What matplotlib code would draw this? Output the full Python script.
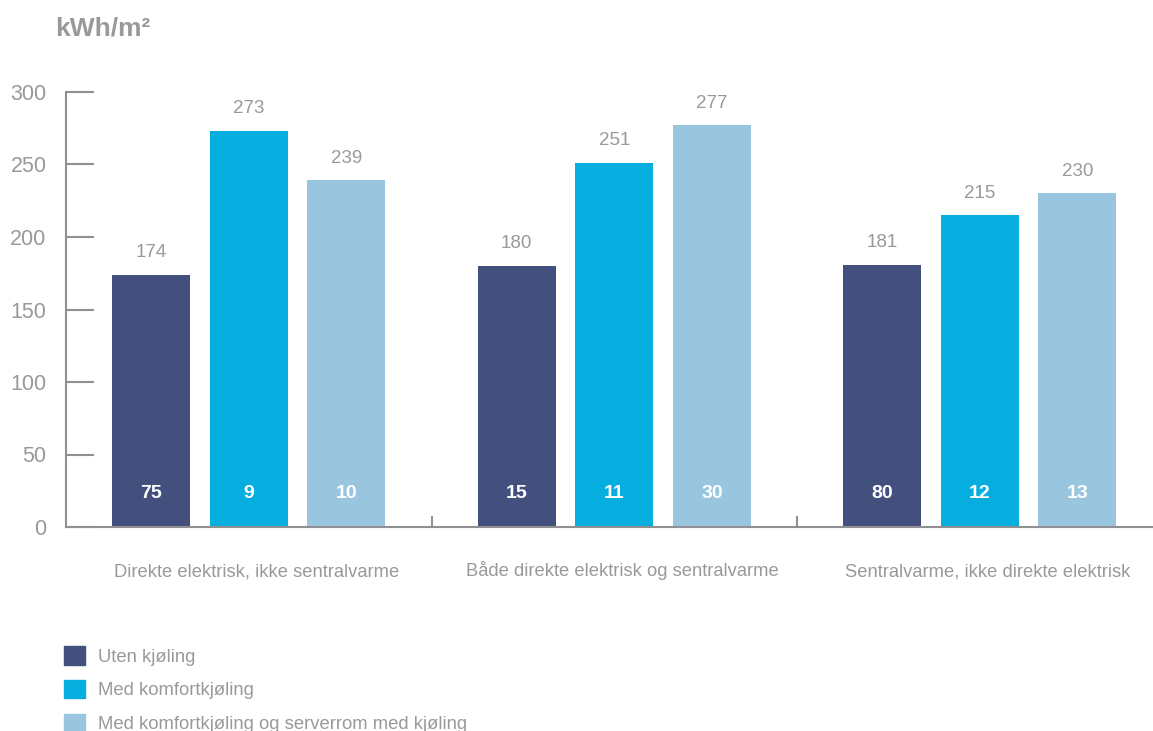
import numpy as np
import matplotlib.pyplot as plt
import matplotlib.patches as patches
import matplotlib.transforms as mtransforms

plt.rcParams['font.family'] = ['Liberation Sans', 'DejaVu Sans']

categories = ["Direkte elektrisk, ikke sentralvarme",
              "Både direkte elektrisk og sentralvarme",
              "Sentralvarme, ikke direkte elektrisk"]
series = ["Uten kjøling",
          "Med komfortkjøling",
          "Med komfortkjøling og serverrom med kjøling"]
totals = [[174, 180, 181],
          [273, 251, 215],
          [239, 277, 230]]
shares = [[75, 15, 80],
          [9, 11, 12],
          [10, 30, 13]]
colors = ["#434f7d", "#05aede", "#99c6de"]

GRAY = "#999999"
AXIS = "#8f8f94"

fig = plt.figure(figsize=(11.53, 7.31), dpi=100)
W, H = 1153, 731
ax = fig.add_axes([66 / W, (H - 527) / H, 1096.5 / W, 435 / H])

x = np.arange(len(categories))
width = 0.214
step = 0.267
for i, (name, vals, inner, col) in enumerate(zip(series, totals, shares, colors)):
    pos = x + (i - 1) * step
    bars = ax.bar(pos, vals, width, color=col, label=name, zorder=2)
    for b, v, s in zip(bars, vals, inner):
        cx = b.get_x() + b.get_width() / 2
        ax.annotate(str(v), (cx, v), xytext=(0, 16), textcoords="offset points",
                    ha="center", va="center", fontsize=13.5, color=GRAY)
        ax.text(cx, 23, str(s), ha="center", va="center", fontsize=14,
                color="white", fontweight="bold", zorder=3)

ax.set_xlim(-0.5, 2.5)
ax.set_ylim(0, 300)
ax.set_yticks([0, 50, 100, 150, 200, 250, 300])
ax.tick_params(axis="y", direction="in", length=20, width=1.5, color=AXIS,
               labelsize=15.5, labelcolor=GRAY, pad=14)
ax.set_xticks([])
ax.set_xticks([0.5, 1.5], minor=True)
ax.tick_params(axis="x", which="minor", direction="in", length=8, width=1.5,
               color=AXIS)

# category names sit on a common baseline below the axis, nudged a little right
label_tf = mtransforms.offset_copy(ax.transData, fig=fig, x=6, y=-35.5, units="points")
for xi, cat in zip(x, categories):
    ax.text(xi, 0, cat, transform=label_tf, ha="center", va="baseline",
            fontsize=13.2, color=GRAY, clip_on=False)

for side in ["top", "right"]:
    ax.spines[side].set_visible(False)
for side in ["left", "bottom"]:
    ax.spines[side].set_color(AXIS)
    ax.spines[side].set_linewidth(1.5)
ax.spines["left"].set_zorder(3)

fig.text(55 / W, 1 - 29 / H, "kWh/m²", fontsize=19, fontweight="bold",
         color=GRAY, ha="left", va="center")

handles = [patches.Patch(color=c) for c in colors]
fig.legend(handles, series, loc="upper left", bbox_to_anchor=(55 / W, 1 - 637 / H),
           frameon=False, fontsize=13.3, labelcolor=GRAY, handlelength=1.15,
           handleheight=1.15, handletextpad=0.68, labelspacing=0.78,
           borderaxespad=0, borderpad=0.5)

fig.savefig("out.png", dpi=100)
